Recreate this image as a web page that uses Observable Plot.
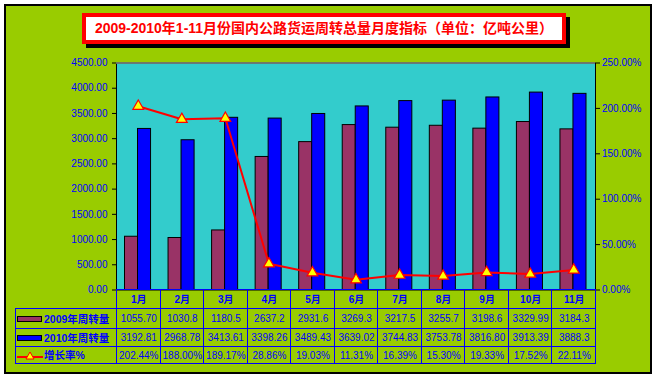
<!DOCTYPE html>
<html><head><meta charset="utf-8">
<script src="https://cdn.jsdelivr.net/npm/d3@7"></script>
<script src="https://cdn.jsdelivr.net/npm/@observablehq/plot@0.6"></script>
<style>
body{margin:0;background:#fff;}
#wrap{position:relative;width:657px;height:379px;overflow:hidden;font-family:"Liberation Sans","Noto Sans CJK SC",sans-serif;}
#frame{position:absolute;left:4px;top:4px;width:644px;height:366px;background:#99CC00;border:2px solid #000;}
#title{position:absolute;left:82px;top:13px;width:476px;height:23px;border:4px solid #f00;background:#fff;box-shadow:4px 4px 0 #000;
  color:#f00;font-weight:bold;font-size:14px;line-height:23px;text-align:center;white-space:nowrap;}
#chart{position:absolute;left:0;top:0;}
.ln{position:absolute;background:#0000ff;}
.cell{position:absolute;text-align:center;color:#0000ff;font-size:10px;white-space:nowrap;}
.cat{font-weight:bold;}
.leg{position:absolute;color:#0000ff;font-size:10.5px;font-weight:bold;white-space:nowrap;}
.sw{position:absolute;box-sizing:border-box;border:1px solid #000;}
</style>
</head><body>
<div id="wrap"><div id="frame"></div><div id="title"></div><div id="chart"></div></div>
<script>
const title = "2009-2010年1-11月份国内公路货运周转总量月度指标（单位：亿吨公里）";
const months = ["1月","2月","3月","4月","5月","6月","7月","8月","9月","10月","11月"];
const v2009Text = ["1055.70","1030.8","1180.5","2637.2","2931.6","3269.3","3217.5","3255.7","3198.6","3329.99","3184.3"];
const v2010Text = ["3192.81","2968.78","3413.61","3398.26","3489.43","3639.02","3744.83","3753.78","3816.80","3913.39","3888.3"];
const growthText = ["202.44%","188.00%","189.17%","28.86%","19.03%","11.31%","16.39%","15.30%","19.33%","17.52%","22.11%"];
const seriesNames = ["2009年周转量","2010年周转量","增长率%"];
const leftTicks = [0,500,1000,1500,2000,2500,3000,3500,4000,4500];
const rightTicks = [0,50,100,150,200,250];

const yMax = 4500, pctMax = 250, k = yMax / pctMax;
const data = months.map((m, i) => ({
  month: m, v2009: +v2009Text[i], v2010: +v2010Text[i], growth: parseFloat(growthText[i])
}));

document.getElementById("title").textContent = title;

const chart = Plot.plot({
  width: 657, height: 300,
  marginTop: 62.5, marginBottom: 10.5, marginLeft: 116, marginRight: 62,
  style: {background: "transparent", fontFamily: "Liberation Sans, Arial, sans-serif", fontSize: "10px", overflow: "visible"},
  x: {domain: months, padding: 0, round: false, axis: null},
  y: {domain: [0, yMax], axis: null},
  marks: [
    Plot.frame({fill: "#33CCCC", stroke: "none"}),
    Plot.barY(data, {x: "month", y: "v2009", fill: "#993366", stroke: "#000", strokeWidth: 1, insetLeft: 8.5, insetRight: 22}),
    Plot.barY(data, {x: "month", y: "v2010", fill: "#0000FF", stroke: "#000", strokeWidth: 1, insetLeft: 21.5, insetRight: 9}),
    Plot.frame({stroke: "#000", fill: "none"}),
    Plot.ruleY([yMax], {stroke: "#808080", strokeWidth: 1.5}),
    Plot.line(data, {x: "month", y: d => d.growth * k, stroke: "#ff0000", strokeWidth: 2}),
    Plot.dot(data, {x: "month", y: d => d.growth * k, symbol: "triangle", r: 4, fill: "#ffff00", stroke: "#ff0000", strokeWidth: 1.2}),
    Plot.axisY({anchor: "left", ticks: leftTicks, tickFormat: d3.format(".2f"), tickSize: 4, tickPadding: 5, stroke: "#000", fill: "#0000ff", label: null, fontSize: 10}),
    Plot.axisY({anchor: "right", ticks: rightTicks.map(p => p * k), tickFormat: d => (d / k).toFixed(2) + "%", tickSize: 4, tickPadding: 2.5, stroke: "#000", fill: "#0000ff", label: null, fontSize: 10})
  ]
});
document.getElementById("chart").appendChild(chart);

// data table under the chart, aligned on the chart's x scale
const wrap = document.getElementById("wrap");
const xs = chart.scale("x");
const bw = xs.bandwidth;
const x0 = 116, x1 = 595, tblLeft = 15;
const rows = [289, 308, 328, 346, 363];
function line(l, t, w, h) {
  const d = document.createElement("div");
  d.className = "ln";
  Object.assign(d.style, {left: l + "px", top: t + "px", width: w + "px", height: h + "px"});
  wrap.appendChild(d);
}
line(x0, rows[0], x1 - x0 + 1, 1);
for (let r = 1; r < rows.length; r++) line(tblLeft, rows[r], x1 - tblLeft + 1, 1);
line(tblLeft, rows[1], 1, rows[4] - rows[1] + 1);
const edges = months.map(m => xs.apply(m)).concat([xs.apply(months[months.length - 1]) + bw]);
edges.forEach(e => line(Math.round(e), rows[0], 1, rows[4] - rows[0] + 1));

function cell(text, l, w, t, h, cls) {
  const d = document.createElement("div");
  d.className = "cell" + (cls ? " " + cls : "");
  Object.assign(d.style, {left: l + "px", width: w + "px", top: t + "px", height: h + "px", lineHeight: h + "px"});
  d.textContent = text;
  wrap.appendChild(d);
}
const rowTexts = [months, v2009Text, v2010Text, growthText];
rowTexts.forEach((arr, r) => {
  arr.forEach((s, i) => cell(s, xs.apply(months[i]) + 1, bw, rows[r] + 1, rows[r + 1] - rows[r], r === 0 ? "cat" : ""));
});

// legend column
const swColors = ["#993366", "#0000FF"];
seriesNames.forEach((name, r) => {
  const t = rows[r + 1], h = rows[r + 2] - rows[r + 1];
  const lab = document.createElement("div");
  lab.className = "leg";
  Object.assign(lab.style, {left: "44px", top: (t + 1) + "px", height: h + "px", lineHeight: h + "px"});
  lab.textContent = name;
  wrap.appendChild(lab);
  if (r < 2) {
    const sw = document.createElement("div");
    sw.className = "sw";
    Object.assign(sw.style, {left: "17px", top: (t + h / 2 - 2) + "px", width: "25px", height: "6px", background: swColors[r]});
    wrap.appendChild(sw);
  } else {
    const ns = "http://www.w3.org/2000/svg";
    const svg = document.createElementNS(ns, "svg");
    svg.setAttribute("width", 28); svg.setAttribute("height", 12);
    Object.assign(svg.style, {position: "absolute", left: "16px", top: (t + h / 2 - 5) + "px"});
    svg.innerHTML = '<line x1="1" x2="27" y1="7" y2="7" stroke="#ff0000" stroke-width="2"/>' +
      '<path d="M14,2 L18,9 L10,9 Z" fill="#ffff00" stroke="#ff0000" stroke-width="1"/>';
    wrap.appendChild(svg);
  }
});
</script>
</body></html>
